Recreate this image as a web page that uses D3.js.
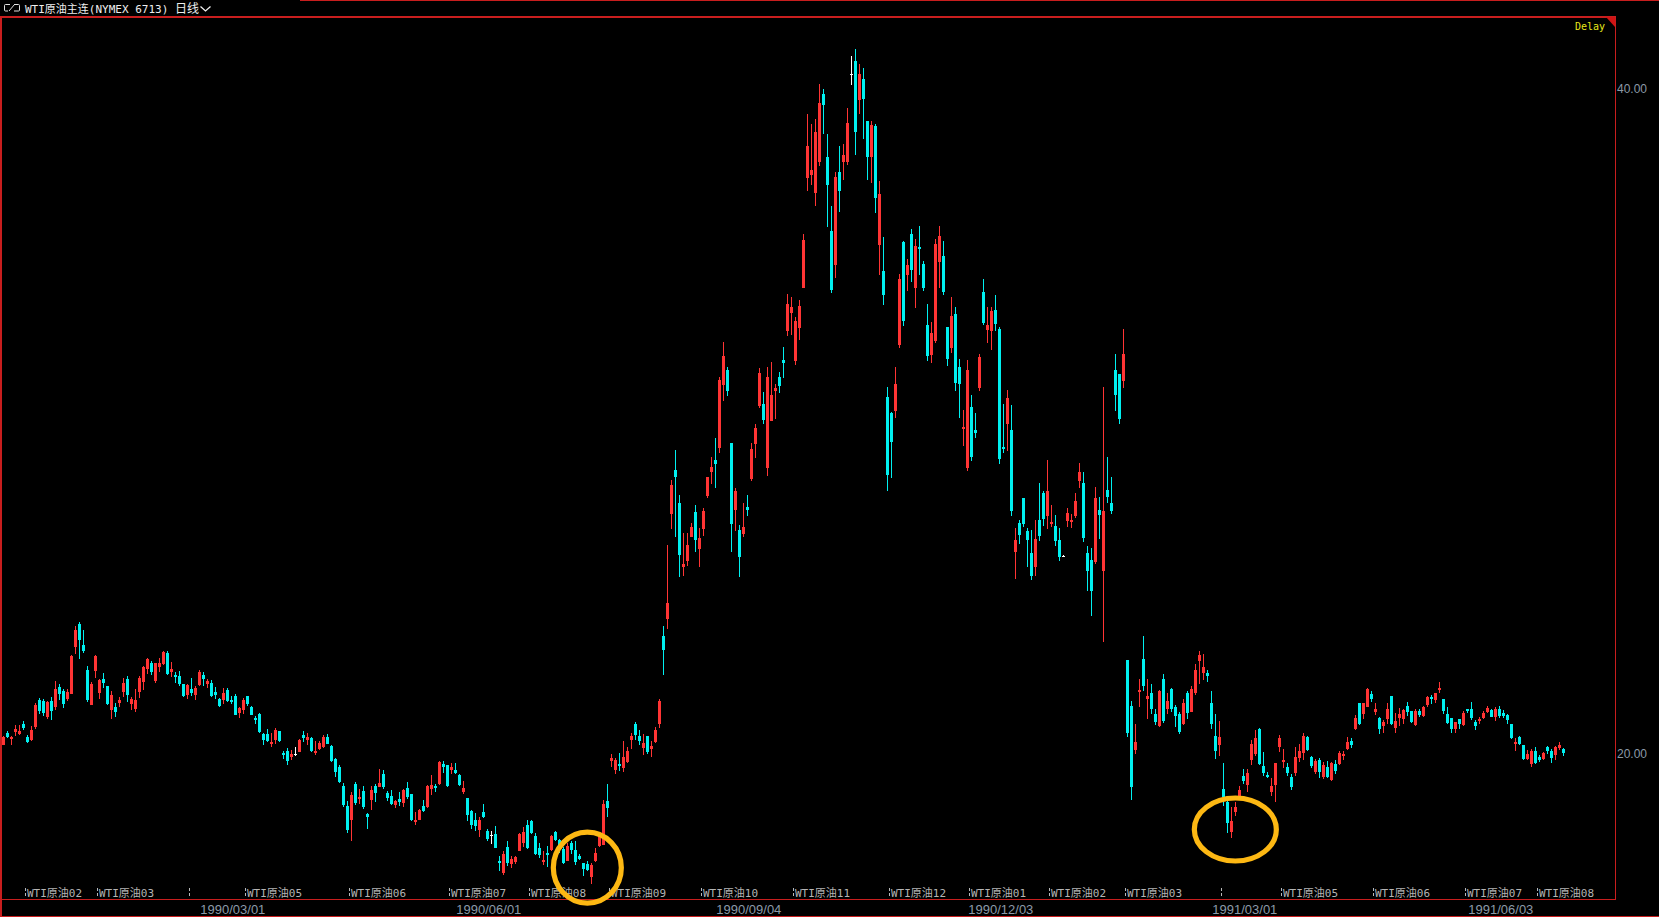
<!DOCTYPE html>
<html><head><meta charset="utf-8">
<script src="https://cdn.jsdelivr.net/npm/d3@7"></script>
<style>html,body{margin:0;padding:0;background:#000;overflow:hidden}</style>
</head><body><svg id="c" width="1659" height="917"></svg>
<script>
const openP = [
20.25,20.61,20.41,20.64,20.58,20.88,20.49,20.40,20.79,21.60,
21.57,21.09,21.57,21.39,21.99,21.87,21.63,21.78,23.19,23.88,
23.25,22.50,21.45,22.47,21.81,22.23,22.02,21.30,21.39,21.51,
21.84,22.23,21.48,21.33,21.84,22.14,22.53,22.71,22.17,22.59,
22.68,23.01,22.44,22.35,22.32,22.08,21.75,21.93,21.75,22.05,
22.35,22.08,22.11,21.84,21.63,21.60,21.90,21.60,21.72,21.21,
21.30,21.72,21.39,21.06,21.18,20.58,20.58,20.28,20.40,20.67,
20.01,20.07,19.89,19.98,20.04,20.55,20.40,20.46,20.01,20.13,
20.19,20.49,20.22,19.83,19.59,19.02,18.42,18.00,19.08,18.63,
18.87,18.18,18.60,19.02,18.99,19.38,18.81,18.72,18.45,18.63,
18.51,18.96,18.78,17.91,18.00,18.42,18.39,18.93,19.02,19.08,
19.68,19.65,19.50,19.50,19.35,18.84,18.66,18.27,18.00,17.67,
18.24,17.64,17.52,17.55,16.74,16.38,17.16,16.65,16.71,17.04,
17.28,17.82,17.94,17.49,17.13,16.71,16.98,17.07,17.61,17.37,
17.10,16.74,17.28,17.07,16.89,16.68,16.65,16.26,16.74,17.19,
17.22,18.57,19.77,19.50,19.68,19.56,19.74,20.40,20.88,20.51,
20.15,20.51,20.12,20.33,20.87,23.52,24.03,27.19,28.51,27.52,
25.59,25.77,26.49,27.25,26.13,26.73,27.73,28.45,28.81,29.17,
31.07,31.52,29.32,27.31,26.70,26.58,27.40,28.24,29.29,30.43,
30.49,28.57,29.98,30.89,31.31,31.82,32.70,33.23,31.79,32.78,
33.98,37.29,37.38,36.84,37.77,39.82,37.92,35.70,34.67,37.47,
37.77,37.77,40.42,40.81,39.64,40.27,39.00,37.92,38.85,35.28,
34.49,30.70,30.22,30.28,32.27,35.37,34.37,35.61,33.98,35.22,
34.70,32.87,31.97,32.39,34.76,34.94,32.81,32.18,33.20,31.61,
29.74,28.57,30.40,29.71,30.98,33.86,32.72,32.69,33.32,32.75,
29.20,29.89,29.71,26.04,26.91,27.67,26.67,26.01,25.59,27.01,
27.82,27.13,26.89,26.83,26.40,25.92,26.98,26.95,27.13,28.18,
28.12,26.01,25.80,25.74,27.31,25.47,27.91,27.52,31.52,31.40,
31.19,22.80,21.41,20.09,21.84,22.83,21.62,21.80,21.17,20.81,
22.23,21.32,21.93,21.38,21.17,20.87,21.80,21.23,21.80,22.77,
22.41,22.41,21.50,20.51,20.24,18.92,18.53,17.62,18.23,18.71,
19.31,19.04,19.79,19.97,20.72,19.61,19.34,18.83,19.04,20.18,
19.73,19.58,19.28,19.40,19.85,20.00,20.48,19.88,19.43,19.79,
19.28,19.58,19.19,19.67,19.67,19.91,20.12,20.36,20.72,21.50,
21.17,21.38,21.77,21.23,21.05,20.81,21.02,21.71,20.75,21.05,
21.02,21.41,21.26,20.84,21.26,21.11,21.44,21.68,21.59,21.89,
21.62,21.17,21.05,20.72,21.02,20.84,21.32,21.32,20.93,20.96,
21.05,21.23,21.29,21.08,21.32,21.20,21.14,20.87,20.27,20.48,
20.24,19.82,19.67,20.06,19.88,19.82,20.18,20.06,19.94,20.15,
20.12];
const highP = [
20.52,20.67,20.52,20.84,20.84,20.97,20.55,20.82,21.51,21.66,
21.63,21.57,21.69,22.17,22.08,21.93,21.93,22.95,23.82,23.94,
23.70,22.62,22.14,22.95,22.23,22.41,22.02,21.87,21.51,21.69,
22.26,22.32,21.69,21.93,22.32,22.62,22.86,22.77,22.71,22.86,
23.07,23.07,22.74,22.44,22.47,22.08,22.08,22.26,22.02,22.50,
22.44,22.23,22.20,21.99,21.66,21.96,21.96,21.72,21.78,21.39,
21.66,21.72,21.42,21.12,21.21,20.61,20.73,20.61,20.76,20.67,
20.07,20.16,20.10,20.19,20.43,20.67,20.61,20.49,20.37,20.37,
20.55,20.58,20.25,19.86,19.65,19.11,18.57,18.84,19.14,18.93,
19.02,18.21,19.02,19.08,19.53,19.50,18.87,18.90,18.60,18.84,
18.93,19.14,18.78,18.24,18.33,18.60,19.05,19.35,19.08,19.77,
19.77,19.65,19.71,19.71,19.38,19.17,18.66,18.30,18.21,18.09,
18.48,17.70,17.64,17.79,16.89,17.04,17.34,16.89,16.89,17.58,
17.76,17.97,18.00,17.58,17.28,17.04,17.19,17.52,17.64,17.40,
17.16,17.28,17.34,17.34,16.95,16.68,16.74,16.68,17.13,17.58,
18.60,19.08,19.98,19.86,20.01,20.37,20.19,20.61,20.94,20.69,
20.57,20.51,20.36,20.78,21.62,23.82,26.25,28.21,29.11,27.76,
26.61,26.61,26.92,27.46,26.76,27.37,28.30,28.90,29.47,31.31,
32.36,31.61,29.32,27.97,26.85,27.52,27.76,29.32,29.89,31.58,
30.85,31.61,31.76,31.10,31.46,32.21,33.80,33.71,33.11,33.62,
35.61,39.21,38.91,39.06,40.12,39.97,38.61,36.45,37.47,38.25,
38.31,39.39,40.96,41.17,40.72,40.60,39.00,39.00,38.91,37.20,
35.51,31.00,30.25,31.61,34.40,35.40,34.85,35.76,35.46,35.85,
34.79,33.50,32.96,35.46,35.85,35.40,32.81,33.71,33.41,31.85,
30.31,31.82,30.76,30.22,32.00,34.25,33.41,33.41,33.77,32.81,
30.49,30.91,30.46,26.76,27.01,27.67,26.76,26.70,27.01,28.12,
27.88,28.81,27.46,27.16,26.76,25.95,27.37,27.19,27.82,28.72,
28.45,26.22,26.16,28.00,27.70,31.01,28.90,28.30,32.00,31.40,
32.75,22.80,21.56,20.87,22.23,23.52,22.23,22.08,21.32,21.90,
22.38,21.80,21.96,21.44,21.23,21.62,21.87,22.02,22.68,23.07,
22.98,22.50,21.86,21.17,20.96,19.70,18.56,18.38,18.53,19.01,
19.52,19.52,20.39,20.69,20.75,20.03,19.43,19.25,19.70,20.54,
20.12,19.70,19.37,20.18,20.27,20.60,20.51,19.91,19.82,19.85,
19.73,19.76,19.73,19.79,20.06,20.06,20.48,20.45,21.14,21.50,
21.50,21.96,21.87,21.50,21.08,20.99,21.50,21.71,21.20,21.35,
21.32,21.53,21.26,21.32,21.32,21.41,21.71,21.74,21.80,22.14,
21.62,21.38,21.05,20.93,21.02,21.26,21.32,21.53,20.99,21.08,
21.26,21.41,21.32,21.38,21.41,21.29,21.17,20.87,20.45,20.51,
20.24,20.09,20.12,20.18,19.94,20.03,20.21,20.12,20.21,20.33,
20.15];
const lowP = [
20.25,20.46,20.25,20.52,20.55,20.68,20.31,20.37,20.73,21.18,
21.12,21.03,21.00,21.30,21.60,21.36,21.57,21.78,22.98,22.83,
23.01,21.54,21.45,22.26,21.63,21.96,21.45,21.03,21.09,21.39,
21.69,21.54,21.30,21.24,21.66,21.90,22.38,22.35,22.11,22.44,
22.65,22.35,22.29,22.11,22.02,21.69,21.63,21.72,21.60,22.02,
22.02,21.96,21.69,21.63,21.39,21.48,21.54,21.48,21.15,21.06,
21.18,21.42,21.15,20.88,20.61,20.25,20.34,20.19,20.28,20.34,
19.83,19.65,19.80,19.92,20.04,20.34,20.25,20.04,19.95,20.10,
20.16,20.28,19.74,19.29,19.11,18.39,17.58,17.34,18.45,18.48,
18.33,17.70,18.30,18.54,18.99,18.93,18.57,18.45,18.36,18.42,
18.39,18.63,17.94,17.82,17.97,18.24,18.36,18.75,18.84,19.05,
19.41,18.99,19.38,19.38,19.02,18.78,17.94,17.70,17.64,17.46,
18.06,17.34,17.25,17.13,16.44,16.32,16.59,16.53,16.65,17.04,
17.16,17.10,17.55,16.92,16.83,16.62,16.56,17.04,17.34,17.00,
16.65,16.74,16.95,16.62,16.77,16.29,16.44,16.05,16.71,17.16,
17.22,18.09,19.59,19.38,19.47,19.44,19.71,20.13,20.40,20.24,
19.94,19.97,19.88,20.30,20.75,22.34,23.73,26.73,26.49,25.29,
25.32,25.62,26.49,26.04,25.59,26.52,27.67,28.09,27.97,29.02,
30.58,30.73,26.04,26.67,25.29,26.49,27.13,28.18,28.87,30.37,
29.89,28.33,29.98,30.04,30.82,31.28,32.54,32.57,31.67,32.42,
33.98,36.90,37.08,36.45,37.65,38.61,35.82,33.83,34.28,36.27,
37.23,37.68,40.09,37.98,39.21,38.46,37.23,37.14,36.24,34.37,
33.47,27.88,28.27,30.07,32.18,32.84,33.89,34.16,33.38,34.37,
33.89,31.79,31.73,32.33,33.98,33.77,31.64,32.03,30.88,30.07,
29.23,28.48,28.78,29.47,30.89,32.87,32.33,32.12,32.69,28.69,
29.02,29.08,27.13,25.23,26.28,26.80,25.59,25.20,25.32,26.37,
26.83,26.73,26.80,26.22,25.77,25.89,26.80,26.76,27.07,27.97,
26.34,24.87,24.12,25.68,26.43,23.34,27.52,27.19,30.28,29.89,
30.97,20.48,18.59,19.97,21.38,21.87,21.02,21.17,20.84,20.78,
20.90,21.17,21.23,20.78,20.57,20.84,21.02,21.23,21.74,22.08,
22.20,22.14,20.72,19.82,19.91,18.41,17.59,17.44,18.11,18.59,
19.07,18.83,19.64,19.91,19.64,19.31,19.25,18.71,18.53,20.03,
19.55,19.31,18.89,19.31,19.73,19.79,20.06,19.55,19.37,19.25,
19.22,19.25,19.16,19.37,19.64,19.79,20.09,20.15,20.69,20.84,
21.02,21.38,21.53,21.14,20.57,20.60,20.87,20.84,20.60,20.81,
20.87,21.11,20.90,20.81,21.08,21.08,21.38,21.47,21.50,21.80,
21.17,20.87,20.60,20.60,20.72,20.81,21.20,20.99,20.69,20.87,
21.02,21.20,21.08,20.96,21.05,21.05,20.87,20.42,20.06,20.24,
19.79,19.79,19.58,19.67,19.73,19.79,19.97,19.70,19.79,20.09,
19.91];
const closeP = [
20.49,20.49,20.49,20.73,20.67,20.76,20.34,20.70,21.45,21.27,
21.21,21.54,21.27,21.93,21.78,21.48,21.84,22.92,23.70,23.40,
23.07,21.60,22.08,22.92,22.20,22.11,21.48,21.75,21.24,21.60,
22.11,21.75,21.63,21.60,22.26,22.59,22.83,22.44,22.71,22.71,
23.04,22.38,22.53,22.29,22.08,21.72,22.05,21.81,21.96,22.44,
22.23,22.17,21.72,21.75,21.42,21.81,21.57,21.54,21.15,21.36,
21.60,21.48,21.15,21.00,20.64,20.40,20.37,20.34,20.70,20.37,
19.95,19.77,19.98,19.98,20.40,20.46,20.49,20.07,20.07,20.31,
20.49,20.28,19.77,19.44,19.14,18.45,17.67,18.75,18.51,18.69,
18.39,18.09,18.90,18.81,19.11,18.99,18.66,18.48,18.57,18.54,
18.90,18.69,18.00,18.00,18.30,18.27,19.02,19.05,18.96,19.74,
19.59,19.02,19.59,19.41,19.05,18.96,18.15,17.82,17.79,18.00,
18.09,17.40,17.52,17.13,16.68,16.95,16.68,16.80,16.86,17.55,
17.61,17.13,17.58,16.95,16.92,16.77,16.92,17.49,17.37,17.10,
16.68,17.19,17.07,16.71,16.80,16.50,16.47,16.62,16.98,17.49,
18.48,18.36,19.86,19.80,19.62,19.89,20.07,20.52,20.55,20.36,
20.30,20.03,20.21,20.69,21.56,23.10,24.51,28.06,28.30,25.95,
25.68,26.25,26.79,26.40,26.46,27.28,28.30,28.60,28.69,31.22,
31.94,30.89,26.89,27.88,25.89,26.79,27.31,29.14,29.77,31.43,
30.01,31.31,30.76,30.97,31.04,31.73,33.50,33.41,32.99,33.44,
35.43,38.25,37.53,38.67,39.54,39.49,37.08,33.92,37.32,36.90,
37.98,38.94,40.42,38.67,40.42,39.67,37.92,38.88,36.69,36.81,
33.77,28.36,29.35,31.09,34.25,32.99,34.67,34.52,35.25,35.16,
33.98,31.94,32.63,35.31,35.55,33.86,31.85,33.14,31.12,31.10,
29.80,31.52,28.90,29.62,31.91,32.93,32.87,33.29,32.90,28.84,
29.14,30.67,27.28,26.40,26.55,26.89,26.40,25.32,26.43,26.52,
27.04,27.88,26.95,26.37,25.89,25.92,27.22,27.01,27.58,28.45,
26.46,25.47,24.87,27.67,27.16,27.28,27.70,27.28,30.76,30.04,
32.00,20.60,18.98,20.33,21.90,22.02,21.71,21.32,20.93,21.87,
20.96,21.56,21.32,21.11,20.63,21.50,21.20,21.93,22.50,22.95,
22.59,22.32,20.87,20.06,20.48,18.68,17.90,17.96,18.38,18.89,
19.16,19.40,20.27,20.45,19.67,19.40,19.28,19.01,19.70,20.45,
19.79,19.40,18.98,19.88,20.06,20.51,20.09,19.61,19.76,19.43,
19.64,19.28,19.70,19.46,20.00,19.97,20.33,20.24,21.05,20.87,
21.50,21.93,21.62,21.32,20.72,20.93,21.32,20.87,20.96,21.17,
21.29,21.23,20.93,21.26,21.14,21.38,21.68,21.62,21.80,21.95,
21.26,20.90,20.72,20.93,20.87,21.20,21.26,21.05,20.81,21.02,
21.20,21.35,21.08,21.32,21.11,21.11,20.99,20.45,20.33,20.27,
19.82,19.97,20.06,19.70,19.79,20.00,20.06,19.85,20.18,20.24,
20.00];

const priceTicks = [20, 40];
const contractLabels = ["WTI原油02","WTI原油03","","WTI原油05","WTI原油06","WTI原油07","WTI原油08","WTI原油09","WTI原油10","WTI原油11","WTI原油12","WTI原油01","WTI原油02","WTI原油03","","WTI原油05","WTI原油06","WTI原油07","WTI原油08"];
const contractIdx = [6,24,47,61,87,112,132,152,175,198,222,242,262,281,305,320,343,366,384];
const dateLabels = ["1990/03/01","1990/06/01","1990/09/04","1990/12/03","1991/03/01","1991/06/03"];
const dateIdx = [57,121,186,249,310,374];
const markIdx = [146, 308];
const markPrice = [16.55, 17.70];

const W = 1659, H = 917;
const RED = "#c81e1e";
const N = openP.length;
const svg = d3.select("#c");
svg.append("rect").attr("width", W).attr("height", H).attr("fill", "#000");

const x = d3.scaleBand().domain(d3.range(N)).range([1.33, 1565.33]).paddingInner(0.25).paddingOuter(0.125);
const y = d3.scaleLinear().domain([20, 40]).range([753, 88]);

const data = d3.range(N).map(i => ({i, o: openP[i], h: highP[i], l: lowP[i], c: closeP[i]}));
const col = d => d.c > d.o ? "#ff3434" : (d.c < d.o ? "#00f0f0" : "#ffffff");

const g = svg.append("g").attr("shape-rendering", "crispEdges");
g.selectAll("rect.w").data(data).enter().append("rect").attr("class", "w")
  .attr("x", d => Math.round(x(d.i)) + 1)
  .attr("width", 1)
  .attr("y", d => Math.round(y(d.h)))
  .attr("height", d => Math.max(1, Math.round(y(d.l)) - Math.round(y(d.h))))
  .attr("fill", col);
g.selectAll("rect.b").data(data).enter().append("rect").attr("class", "b")
  .attr("x", d => Math.round(x(d.i)))
  .attr("width", Math.round(x.bandwidth()))
  .attr("y", d => Math.round(y(Math.max(d.o, d.c))))
  .attr("height", d => Math.max(1, Math.round(y(Math.min(d.o, d.c))) - Math.round(y(Math.max(d.o, d.c)))))
  .attr("fill", col);

// frame lines
const fr = svg.append("g").attr("shape-rendering", "crispEdges").attr("fill", RED);
fr.append("rect").attr("x", 300).attr("y", 0).attr("width", W - 300).attr("height", 1);
fr.append("rect").attr("x", 0).attr("y", 16).attr("width", 1616).attr("height", 2);
fr.append("rect").attr("x", 0).attr("y", 16).attr("width", 2).attr("height", H - 16);
fr.append("rect").attr("x", 1615).attr("y", 16).attr("width", 1).attr("height", 884);
fr.append("rect").attr("x", 0).attr("y", 899).attr("width", 1616).attr("height", 1);
fr.append("rect").attr("x", 0).attr("y", 916).attr("width", W).attr("height", 1);
svg.append("path").attr("d", "M1606,17 L1615,17 L1615,27 Z").attr("fill", "#d01414");

// Title
svg.append("path").attr("d", "M10,4.5 H5.5 Q4.5,4.5 4.5,5.5 V10 Q4.5,11 5.5,11 H8 M9,11 L14.5,4.5 M14,4.5 H18.5 Q19.5,4.5 19.5,5.5 V10 Q19.5,11 18.5,11 H14")
  .attr("fill", "none").attr("stroke", "#e0e0e0").attr("stroke-width", 1);
svg.append("text").attr("x", 25).attr("y", 13)
  .attr("font-family", "'DejaVu Sans Mono','Noto Sans CJK SC',monospace").attr("font-size", 11)
  .attr("fill", "#eeeeee").text("WTI原油主连(NYMEX 6713)");
svg.append("text").attr("x", 175).attr("y", 13)
  .attr("font-family", "'Noto Sans CJK SC',sans-serif").attr("font-size", 12)
  .attr("fill", "#eeeeee").text("日线");
svg.append("path").attr("d", "M200.5,6.5 L205.5,11 L210.5,6.5").attr("fill", "none").attr("stroke", "#eeeeee").attr("stroke-width", 1.3);

// Delay
svg.append("text").attr("x", 1575).attr("y", 29.5)
  .attr("font-family", "'DejaVu Sans Mono',monospace").attr("font-size", 10)
  .attr("fill", "#e6e61a").text("Delay");

// price labels
const yAxis = d3.axisRight(y).tickValues(priceTicks).tickFormat(d3.format(".2f")).tickSize(0).tickPadding(0);
const ya = svg.append("g").attr("transform", "translate(1617,0)").call(yAxis);
ya.select(".domain").remove();
ya.selectAll("text").attr("font-family", "'Liberation Sans',Arial,sans-serif").attr("font-size", 12)
  .attr("fill", "#8c9aa8").attr("dy", "0.35em");

// contract labels
const cg = svg.append("g");
contractIdx.forEach((k, j) => {
  const tx = Math.round(x(k)) - 1;
  cg.append("line").attr("x1", tx + 0.5).attr("x2", tx + 0.5).attr("y1", 888).attr("y2", 898)
    .attr("stroke", "#b8b8b8").attr("stroke-width", 1).attr("stroke-dasharray", "3,2");
  if (contractLabels[j]) {
    cg.append("text").attr("x", tx + 2).attr("y", 897)
      .attr("font-family", "'DejaVu Sans Mono','Noto Sans CJK SC',monospace").attr("font-size", 11)
      .attr("fill", "#b4b4b4").text(contractLabels[j]);
  }
});

// date labels
const dg = svg.append("g");
dateIdx.forEach((k, j) => {
  dg.append("text").attr("x", x(k) + x.bandwidth() / 2 + 1.5).attr("y", 914)
    .attr("text-anchor", "middle")
    .attr("font-family", "'Liberation Sans',Arial,sans-serif").attr("font-size", 13)
    .attr("fill", "#8c9aa8").text(dateLabels[j]);
});

// annotation ellipses
const radii = [[34, 35.5], [41, 31.5]];
markIdx.forEach((k, j) => {
  svg.append("ellipse").attr("cx", x(k) + x.bandwidth() / 2).attr("cy", y(markPrice[j]))
    .attr("rx", radii[j][0]).attr("ry", radii[j][1])
    .attr("fill", "none").attr("stroke", "#fdb813").attr("stroke-width", 5.2);
});
</script></body></html>
